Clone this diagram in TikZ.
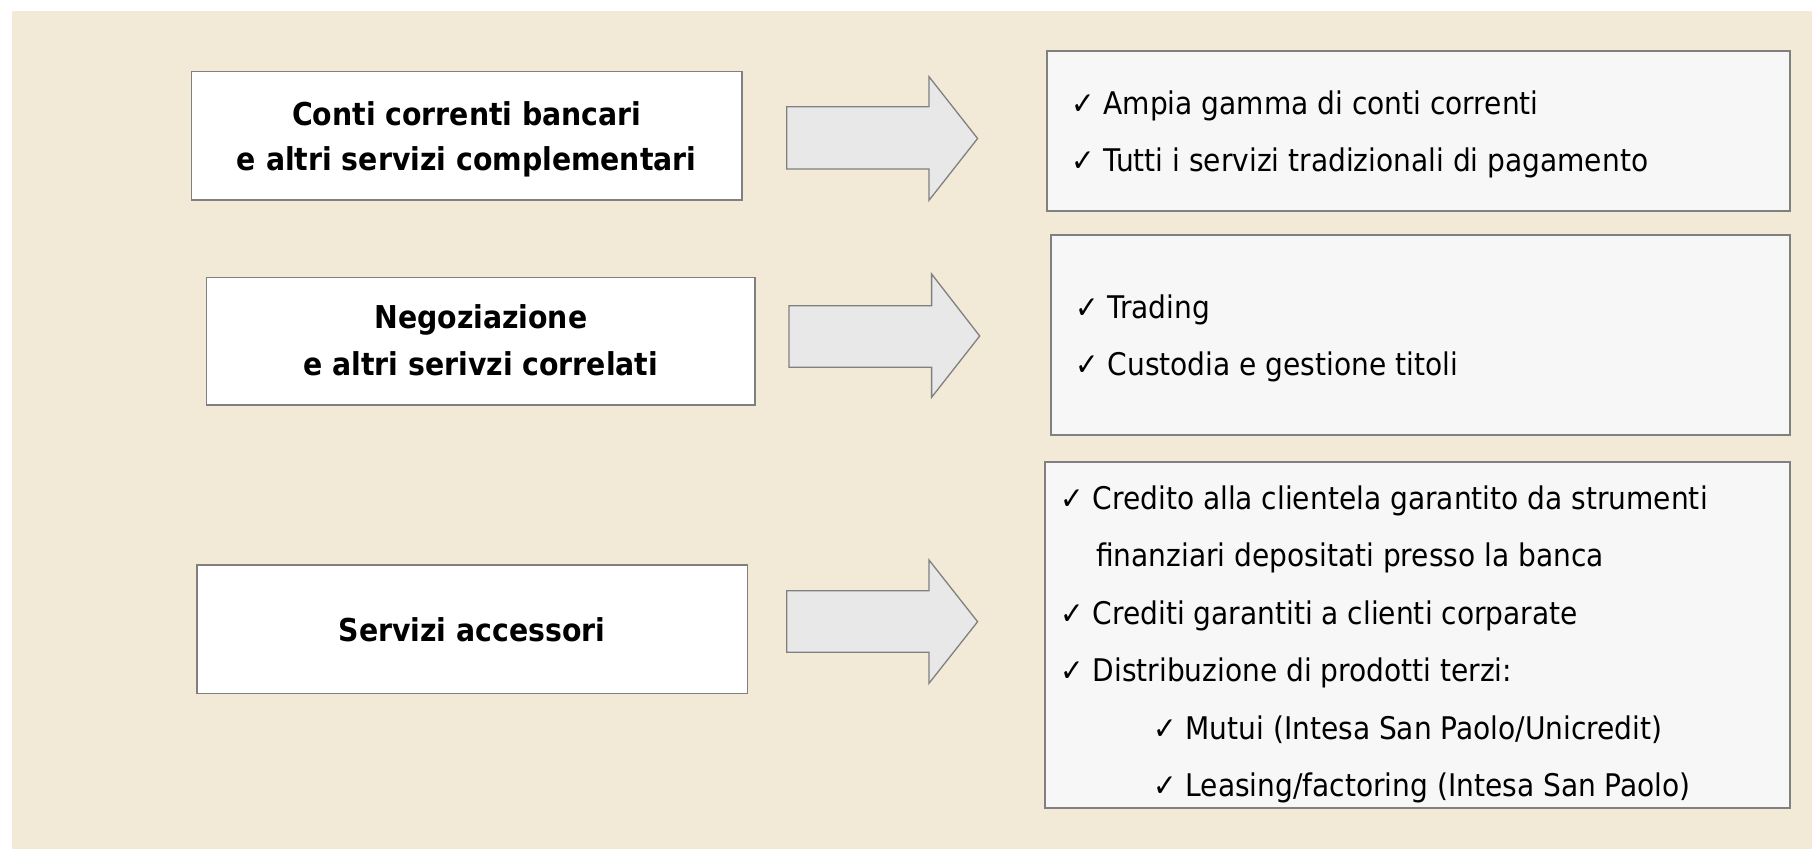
\documentclass[tikz,border=0pt]{standalone}
\usepackage{fontspec}
\setmainfont{DejaVu Sans Condensed}
\definecolor{cream}{RGB}{242,234,214}
\definecolor{edge}{RGB}{128,128,128}
\definecolor{panel}{RGB}{247,247,247}
\definecolor{arrowfill}{RGB}{232,232,232}
\tikzset{
  leftbox/.style={draw=edge, line width=1.5pt, fill=white},
  rightbox/.style={draw=edge, line width=2pt, fill=panel},
  blockarrow/.style={draw=edge, line width=1.3pt, fill=arrowfill, line join=miter},
  lefttext/.style={anchor=base, inner sep=0pt, font=\fontsize{31.5}{36}\selectfont\bfseries},
  item/.style={anchor=base west, inner sep=0pt, font=\fontsize{31.2}{36}\selectfont},
}
\begin{document}
\begin{tikzpicture}[x=1pt,y=-1pt]
\useasboundingbox (0,0) rectangle (1812,849);
\fill[cream] (12,11) rectangle (1812,849);

% left boxes
\draw[leftbox] (191.5,71.7) rectangle (742,200);
\node[lefttext] (l1a) at (466.8,125) {Conti correnti bancari};
\node[lefttext] (l1b) at (466.8,170) {e altri servizi complementari};

\draw[leftbox] (206.7,277.3) rectangle (755,405);
\node[lefttext] (l2a) at (480.9,328) {Negoziazione};
\node[lefttext] (l2b) at (480.9,375) {e altri serivzi correlati};

\draw[leftbox] (197,565) rectangle (747.5,693.3);
\node[lefttext] (l3a) at (472,641.5) {Servizi accessori};

% block arrows
\draw[blockarrow] (786.7,106.7) -- (929,106.7) -- (929,76.7) -- (977.6,138.5) -- (929,200.3) -- (929,169) -- (786.7,169) -- cycle;
\draw[blockarrow] (789,305.7) -- (931.6,305.7) -- (931.6,274) -- (979.7,336) -- (931.6,397.3) -- (931.6,367.3) -- (789,367.3) -- cycle;
\draw[blockarrow] (786.7,590.7) -- (929,590.7) -- (929,560) -- (977.6,621.7) -- (929,683.3) -- (929,652.3) -- (786.7,652.3) -- cycle;

% right boxes
\draw[rightbox] (1047.4,50.7) rectangle (1790,210.7);
\node[item] (r1a) at (1071,114) {✓ Ampia gamma di conti correnti};
\node[item] (r1b) at (1071,171) {✓ Tutti i servizi tradizionali di pagamento};

\draw[rightbox] (1050.8,235) rectangle (1790,435);
\node[item] (r2a) at (1075,318) {✓ Trading};
\node[item] (r2b) at (1075,375) {✓ Custodia e gestione titoli};

\draw[rightbox] (1045,461.7) rectangle (1790,808.3);
\node[item] (r3a) at (1060,509.3) {✓ Credito alla clientela garantito da strumenti};
\node[item] (r3b) at (1096,566.7) {finanziari depositati presso la banca};
\node[item] (r3c) at (1060,624) {✓ Crediti garantiti a clienti corparate};
\node[item] (r3d) at (1060,681.7) {✓ Distribuzione di prodotti terzi:};
\node[item] (r3e) at (1153,739.3) {✓ Mutui (Intesa San Paolo/Unicredit)};
\node[item] (r3f) at (1153,796.7) {✓ Leasing/factoring (Intesa San Paolo)};
\end{tikzpicture}
\end{document}
